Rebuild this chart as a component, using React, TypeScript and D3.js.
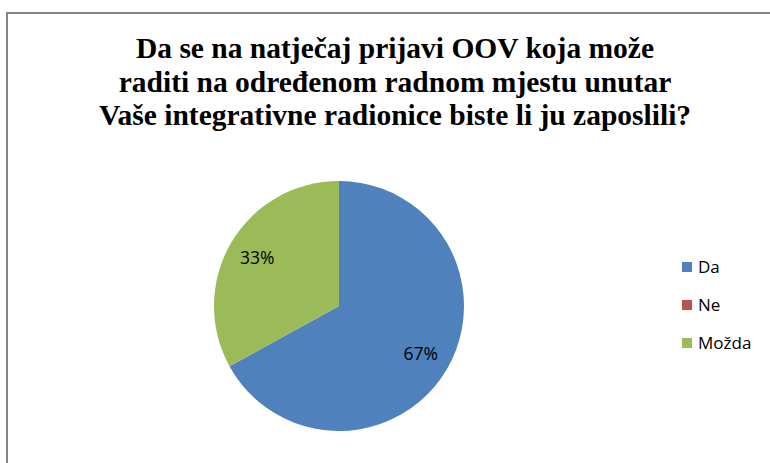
import React from "react";
import * as d3 from "d3";

const categories = ["Da", "Ne", "Možda"];
const values = [67, 0, 33];
const colors = ["#4F81BD", "#C0504D", "#9BBB59"];
const titleLines = [
  "Da se na natječaj prijavi OOV koja može",
  "raditi na određenom radnom mjestu unutar",
  "Vaše integrativne radionice biste li ju zaposlili?",
];

const W = 770;
const H = 463;

export default function App() {
  const cx = 339;
  const cy = 306;
  const r = 125;
  const total = d3.sum(values);
  const pie = d3.pie<number>().sort(null).value((d) => d)(values);
  const arc = d3.arc<d3.PieArcDatum<number>>().innerRadius(0).outerRadius(r);
  const labelArc = d3.arc<d3.PieArcDatum<number>>().innerRadius(95).outerRadius(95);
  const legendY = d3.scalePoint<string>().domain(categories).range([267, 343]);
  const fmt = d3.format(".0%");

  return (
    <svg width={W} height={H} style={{ position: "absolute", left: 0, top: 0, background: "#fff" }}>
      <rect x={7} y={13} width={820} height={520} fill="#fff" stroke="#868686" strokeWidth={2} />
      <g>
        {titleLines.map((t, i) => (
          <text
            key={i}
            x={395}
            y={58 + i * 33.5}
            textAnchor="middle"
            fill="#000"
            style={{ fontFamily: '"Liberation Serif"', fontWeight: 700, fontSize: "29.5px" }}
          >
            {t}
          </text>
        ))}
      </g>
      <g transform={`translate(${cx},${cy})`}>
        {pie.map((p, i) =>
          p.value > 0 ? <path key={i} d={arc(p) || ""} fill={colors[i]} /> : null
        )}
        {pie.map((p, i) => {
          if (p.value <= 0) return null;
          const [x, y] = labelArc.centroid(p);
          return (
            <text
              key={"l" + i}
              x={x}
              y={y}
              dy="0.35em"
              textAnchor="middle"
              style={{ fontFamily: '"Open Sans"', fontSize: "17.5px" }}
              fill="#000"
            >
              {fmt(p.value / total)}
            </text>
          );
        })}
      </g>
      <g>
        {categories.map((c, i) => (
          <g key={c} transform={`translate(682,${legendY(c)})`}>
            <rect x={0} y={-5} width={10} height={10} fill={colors[i]} />
            <text x={16} y={0} dy="0.35em" fill="#000" style={{ fontFamily: '"Open Sans"', fontSize: "17px" }}>
              {c}
            </text>
          </g>
        ))}
      </g>
    </svg>
  );
}
